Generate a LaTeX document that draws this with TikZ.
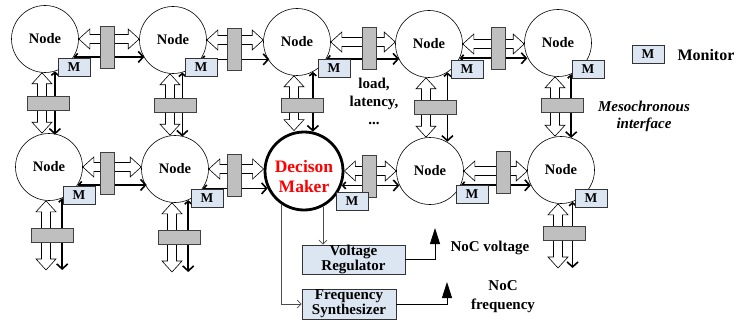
\documentclass[tikz,border=0pt]{standalone}
\usepackage{fontspec}
\setmainfont{Liberation Serif}
\usetikzlibrary{arrows.meta,calc}
\definecolor{monblue}{HTML}{DCE6F2}
\definecolor{mesogray}{HTML}{BFBFBF}

% hollow two-headed arrow between two nodes (horizontal / vertical)
\newcommand{\hollowh}[2]{%
  \draw[hollow] let \p1=(#1.east), \p2=(#2.west) in
    (\x1,\y1) -- (\x1+11pt,\y1+10pt) -- (\x1+11pt,\y1+4.5pt) -- (\x2-11pt,\y1+4.5pt)
    -- (\x2-11pt,\y1+10pt) -- (\x2,\y1) -- (\x2-11pt,\y1-10pt) -- (\x2-11pt,\y1-4.5pt)
    -- (\x1+11pt,\y1-4.5pt) -- (\x1+11pt,\y1-10pt) -- cycle;}
\newcommand{\hollowv}[2]{%
  \draw[hollow] let \p1=(#1.south), \p2=(#2.north) in
    (\x1-3pt,\y1) -- (\x1+7pt,\y1-11pt) -- (\x1+1.5pt,\y1-11pt) -- (\x1+1.5pt,\y2+11pt)
    -- (\x1+7pt,\y2+11pt) -- (\x1-3pt,\y2) -- (\x1-13pt,\y2+11pt) -- (\x1-7.5pt,\y2+11pt)
    -- (\x1-7.5pt,\y1-11pt) -- (\x1-13pt,\y1-11pt) -- cycle;}

\begin{document}
\begin{tikzpicture}[
  x=1pt, y=1pt,
  every node/.style={font=\fontsize{14.5}{15}\selectfont\bfseries},
  router/.style={draw, circle, minimum size=67pt, inner sep=0pt, fill=white, line width=0.6pt},
  maker/.style={draw, circle, minimum size=78pt, inner sep=0pt, fill=white, line width=2.8pt},
  decide/.style={text=red, align=center, font=\fontsize{17.5}{20}\selectfont\bfseries},
  mon/.style={draw=black!80, fill=monblue, minimum width=32pt, minimum height=18pt, inner sep=0pt, line width=0.6pt, font=\fontsize{13.5}{14}\selectfont\bfseries},
  mesov/.style={draw=black!75, fill=mesogray, minimum width=14pt, minimum height=42pt, inner sep=0pt, line width=0.7pt},
  mesoh/.style={mesov, minimum width=42pt, minimum height=14pt},
  hollow/.style={draw, fill=white, line width=0.6pt},
  link/.style={line width=1.6pt, {Straight Barb[length=3pt,width=7pt]}-{Straight Barb[length=5pt,width=11pt]}},
  ctrl/.style={draw=black!80, fill=monblue, align=center, inner sep=0pt, line width=0.7pt, font=\fontsize{15}{15}\selectfont\bfseries},
  wire/.style={line width=0.7pt, black!70, -{Straight Barb[length=4pt,width=8pt]}},
  ctlout/.style={line width=0.9pt, -{Triangle[length=16pt,width=10pt]}},
  note/.style={font=\fontsize{15}{18}\selectfont\bfseries}
]
\useasboundingbox (0,0) rectangle (738,-326);

% routers
\node[router] (n1) at (45,-39) {Node};
\node[router] (n2) at (173,-40) {Node};
\node[router] (n3) at (297,-42) {Node};
\node[router] (n4) at (429,-44) {Node};
\node[router] (n5) at (558,-43) {Node};
\node[router] (n6) at (49,-167) {Node};
\node[router] (n7) at (175,-169) {Node};
\node[maker] (dm) at (304,-171) {};
\node[decide] (dmtext) at ($(dm)+(0,-6)$) {Decison\\Maker};
\node[router] (n9) at (430,-171) {Node};
\node[router] (n10) at (561,-170) {Node};
\coordinate (s6) at (49,-270);
\coordinate (s7) at (175,-272);
\coordinate (s10) at (561,-268);

% hollow data links
\hollowh{n1}{n2}
\hollowh{n2}{n3}
\hollowh{n3}{n4}
\hollowh{n4}{n5}
\hollowh{n6}{n7}
\hollowh{n7}{dm}
\hollowh{dm}{n9}
\hollowh{n9}{n10}
\hollowv{n1}{n6}
\hollowv{n2}{n7}
\hollowv{n3}{dm}
\hollowv{n4}{n9}
\hollowv{n5}{n10}
\hollowv{n6}{s6}
\hollowv{n7}{s7}
\hollowv{n10}{s10}

% monitored links
\draw[link] (n1.-32) -- (n1.-32 -| n2.212);
\draw[link] (n2.-35) -- (n2.-35 -| n3.215);
\draw[link] (n3.-30) -- (n3.-30 -| n4.208);
\draw[link] (n4.-25) -- (n4.-25 -| n5.205);
\draw[link] (n6.-32) -- (n6.-32 -| n7.213);
\draw[link] (n7.-35) -- (n7.-35 -| dm.206);
\draw[link] (dm.-21) -- (dm.-21 -| n9.205);
\draw[link] (n9.-25) -- (n9.-25 -| n10.207);
\draw[link] (n1.-73) -- (n1.-73 |- n6.73);
\draw[link] (n2.-74) -- (n2.-74 |- n7.74);
\draw[link] (n3.-62) -- (n3.-62 |- dm.77);
\draw[link] (n4.-57) -- (n4.-57 |- n9.60);
\draw[link] (n5.-67) -- (n5.-67 |- n10.72);
\draw[link] (n6.-67) -- (n6.-67 |- s6);
\draw[link] (n7.-67) -- (n7.-67 |- s7);
\draw[link] (n10.-70) -- (n10.-70 |- s10);

% mesochronous interfaces
\node[mesov] (g12) at (107,-47) {};
\node[mesov] (g23) at (234,-49) {};
\node[mesov] (g34) at (369,-48) {};
\node[mesov] (g45) at (498,-48) {};
\node[mesov] (g67) at (107,-173) {};
\node[mesov] (g7d) at (234.5,-175) {};
\node[mesov] (gd9) at (369,-176) {};
\node[mesov] (g910) at (503,-172) {};
\node[mesoh] (gv1) at (48,-103) {};
\node[mesoh] (gv2) at (175,-105) {};
\node[mesoh] (gv3) at (302,-105) {};
\node[mesoh] (gv4) at (435,-107) {};
\node[mesoh] (gv5) at (562,-105) {};
\node[mesoh] (gs6) at (52,-235) {};
\node[mesoh] (gs7) at (179,-237) {};
\node[mesoh] (gs10) at (564,-233) {};

% monitors
\node[mon] (m1) at (74,-67) {M};
\node[mon] (m2) at (201,-67) {M};
\node[mon] (m3) at (334,-68) {M};
\node[mon] (m4) at (467,-69) {M};
\node[mon] (m5) at (588,-69) {M};
\node[mon] (m6) at (79,-195) {M};
\node[mon] (m7) at (207,-198) {M};
\node[mon] (mdm) at (352,-201) {M};
\node[mon] (m9) at (472,-194) {M};
\node[mon] (m10) at (591,-198) {M};

% DVFS control
\node[ctrl, minimum width=103pt, minimum height=29pt] (vr) at (353.5,-259.5) {Voltage\\Regulator};
\node[ctrl, minimum width=94pt, minimum height=30pt] (fs) at (349,-304) {Frequency\\Synthesizer};
\coordinate (vout) at (435,-228);
\coordinate (fout) at (447,-282);
\draw[wire] (dm.-62) -- (dm.-62 |- vr.north);
\draw[wire] (dm.-124) |- (fs.west);
\draw[ctlout] (vr.east) -| (vout);
\draw[ctlout] (fs.east) -| (fout);

% labels
\node[note, anchor=west] (vlabel) at (447,-248) {NoC voltage};
\node[note, align=center, font=\fontsize{15}{19}\selectfont\bfseries] (flabel) at (503,-297) {NoC\\frequency};
\node[note, align=center] (stats) at (374,-101) {load,\\latency,\\...};
\node[note, align=center, font=\fontsize{15}{17}\selectfont\bfseries\itshape] (mesolabel) at (644,-116) {Mesochronous\\interface};
\node[mon] (mkey) at (648,-54) {M};
\node[note, anchor=west, font=\fontsize{16}{18}\selectfont\bfseries] (monlabel) at (674,-55) {Monitor};
\end{tikzpicture}
\end{document}
